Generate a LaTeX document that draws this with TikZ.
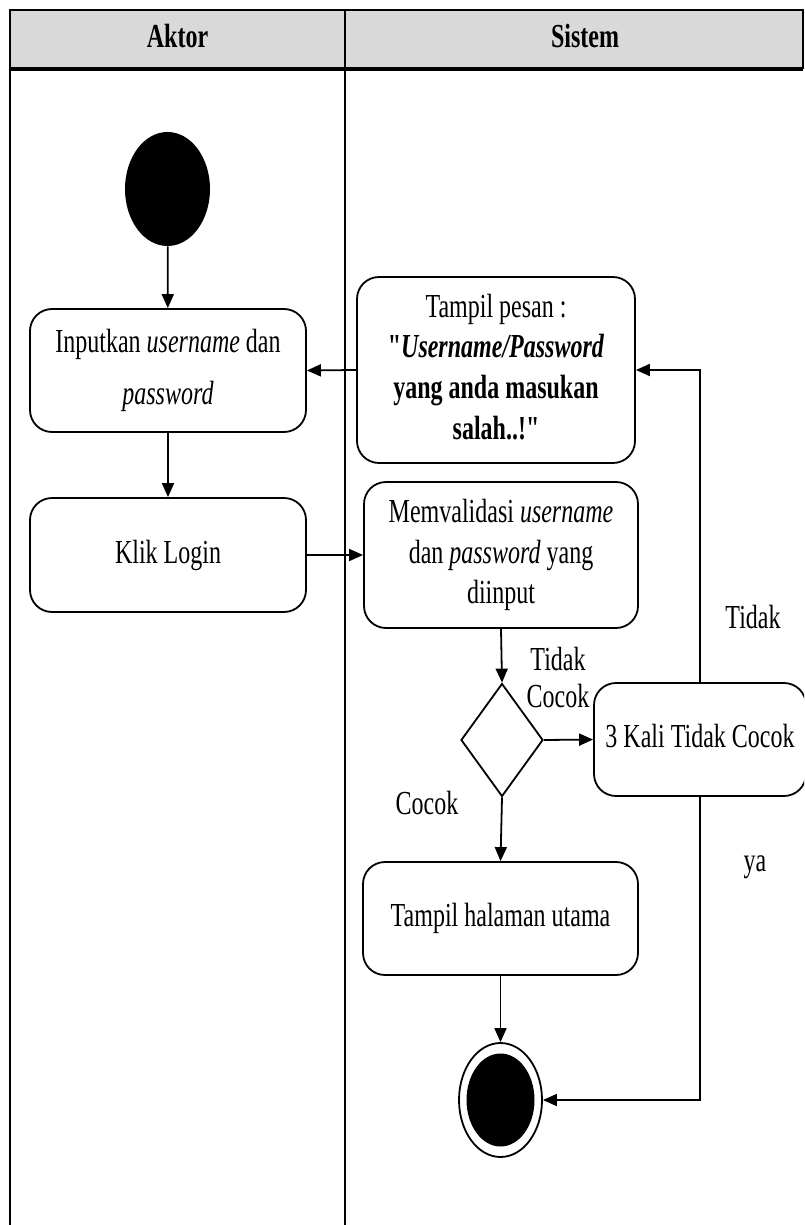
\documentclass[tikz,border=0pt]{standalone}
\usepackage{fontspec}
\setmainfont{Liberation Serif}
\usepackage{graphicx}
\usetikzlibrary{shapes.geometric,arrows.meta}
\definecolor{headgray}{HTML}{D9D9D9}
% text is set slightly tall and narrow
\newcommand{\vtext}[1]{\scalebox{1}[1.4]{\begin{tabular}{@{}c@{}}#1\end{tabular}}}
% straight double quote, bypassing the TeX quote mapping
\newcommand{\sq}{\XeTeXglyph\XeTeXcharglyph"0022\relax}

\begin{document}
\begin{tikzpicture}[x=0.5pt,y=-0.5pt,
  every node/.style={font=\fontsize{12}{14.5}\selectfont, inner sep=0pt},
  act/.style={draw, line width=0.9pt, rounded corners=11pt, fill=white},
  flow/.style={line width=0.9pt, -{Triangle[length=7pt,width=6pt]}},
  lane/.style={line width=1pt}]

\useasboundingbox (0,0) rectangle (804,1225);
\clip (0,0) rectangle (804,1225);

% swimlane frame
\fill[headgray] (10,10) rectangle (803,69);
\draw[lane] (10,1240) -- (10,10) -- (803,10) -- (803,69);
\draw[line width=2pt] (10,69) -- (803,69);
\draw[lane] (345,10) -- (345,1240);
\node (hAktor) at (177.5,39) {\vtext{\bfseries Aktor}};
\node (hSistem) at (585,39) {\vtext{\bfseries Sistem}};

% activities
\node[ellipse, fill=black, minimum width=42.5pt, minimum height=57pt] (start) at (167.5,189) {};
\node[act, minimum width=138pt, minimum height=61.5pt] (inp) at (168,370.5)
  {\vtext{Inputkan \textit{username} dan\\[4pt] \textit{password}}};
\node[act, minimum width=138pt, minimum height=57pt] (klik) at (168,555) {\vtext{Klik Login}};
\node[act, minimum width=139pt, minimum height=93pt] (pesan) at (496,370)
  {\vtext{Tampil pesan :\\ \textbf{\sq\textit{Username/Password}}\\ \textbf{yang anda masukan}\\ \textbf{salah..!\sq}}};
\node[act, minimum width=137pt, minimum height=73pt] (valid) at (501,555)
  {\vtext{Memvalidasi \textit{username}\\ dan \textit{password} yang\\ diinput}};
\node[diamond, draw, line width=0.9pt, minimum width=41pt, minimum height=56.5pt] (dec) at (502,740) {};
\node[act, minimum width=106pt, minimum height=56.5pt] (three) at (700,739.5) {\vtext{3 Kali Tidak Cocok}};
\node[act, minimum width=137.5pt, minimum height=56.5pt] (home) at (500.5,918.5) {\vtext{Tampil halaman utama}};
\node[ellipse, draw, line width=0.9pt, fill=white, minimum width=41.5pt, minimum height=57pt] (end) at (500.5,1100) {};
\node[ellipse, fill=black, minimum width=34pt, minimum height=46.5pt] (endin) at (end.center) {};

% guard labels
\node (lblTC) at (558,681) {\vtext{Tidak\\[-1.3pt] Cocok}};
\node (lblC) at (427,806) {\vtext{Cocok}};
\node (lblT) at (753,620) {\vtext{Tidak}};
\node (lblYa) at (755,863) {\vtext{ya}};

% control flow
\draw[flow] (start) -- (inp);
\draw[flow] (inp) -- (klik);
\draw[flow] (pesan.west) -- (inp.east);
\draw[flow] (klik.east) -- (valid.west);
\draw[flow] (valid.south) -- (dec.north);
\draw[flow] (dec.east) -- (three.west);
\draw[flow] (three.north) |- (pesan.east);
\draw[flow] (dec.south) -- (home.north);
\draw[flow] (home.south) -- (end.north);
\draw[flow] (three.south) |- (end.east);
\end{tikzpicture}
\end{document}
